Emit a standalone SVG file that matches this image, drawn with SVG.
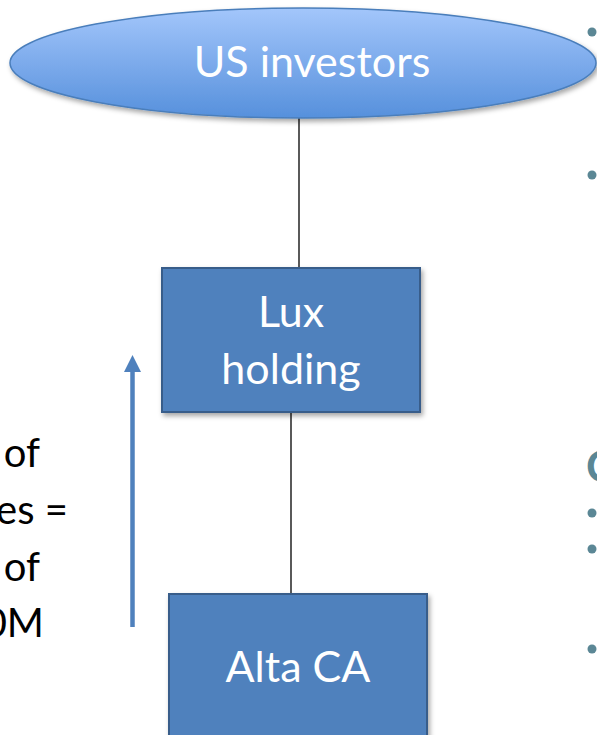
<svg xmlns="http://www.w3.org/2000/svg" width="597" height="735" viewBox="0 0 597 735">
<style>
.lbl{font-family:"Lato","Liberation Sans",sans-serif;font-size:43px;fill:#ffffff;text-anchor:middle}
.side{font-family:"Lato","Liberation Sans",sans-serif;font-size:40px;fill:#000000;text-anchor:end}
.box{fill:#4f81bd;stroke:#385d8a;stroke-width:2}
.conn{stroke:#000000;stroke-width:1.3;fill:none}
.dot{fill:#5b8795}
</style>
<defs>
<linearGradient id="g" x1="0" y1="0" x2="0" y2="1">
<stop offset="0" stop-color="#a3c6fb"/>
<stop offset="1" stop-color="#5690dc"/>
</linearGradient>
<filter id="sh" x="-10%" y="-10%" width="130%" height="130%">
<feDropShadow dx="2" dy="3" stdDeviation="2.5" flood-color="#000" flood-opacity="0.35"/>
</filter>
</defs>
<g id="connectors">
<line class="conn" x1="299" y1="118" x2="299" y2="268"/>
<line class="conn" x1="291" y1="412" x2="291" y2="594"/>
<g id="value-arrow">
<line x1="132.5" y1="627" x2="132.5" y2="370" stroke="#4f81bd" stroke-width="4.5"/>
<path d="M132.5,355 L141,372 L124,372 Z" fill="#4f81bd"/>
</g>
</g>
<g id="us-investors">
<ellipse cx="303" cy="63" rx="293" ry="55" fill="url(#g)" stroke="#4a7ebb" stroke-width="1.5" filter="url(#sh)"/>
<text class="lbl" x="312" y="77">US investors</text>
</g>
<g id="lux-holding">
<rect class="box" x="162" y="268" width="258" height="144" filter="url(#sh)"/>
<text class="lbl" x="291" y="327">Lux</text>
<text class="lbl" x="291" y="384">holding</text>
</g>
<g id="alta-ca">
<rect class="box" x="169" y="594" width="258" height="160" filter="url(#sh)"/>
<text class="lbl" x="298" y="682">Alta CA</text>
</g>
<g id="side-text">
<text class="side" x="40" y="467">of</text>
<text class="side" x="68" y="524">es =</text>
<text class="side" x="40" y="581">of</text>
<text class="side" x="44" y="637">0M</text>
</g>
<g id="right-bullets">
<circle class="dot" cx="592" cy="32" r="4.5"/>
<circle class="dot" cx="592" cy="175" r="4.5"/>
<circle class="dot" cx="592" cy="513" r="4.5"/>
<circle class="dot" cx="592" cy="549" r="4.5"/>
<circle class="dot" cx="592" cy="649" r="4.5"/>
<text x="586" y="482" font-family="Lato,'Liberation Sans',sans-serif" font-weight="bold" font-size="44" fill="#5b8795">C</text>
</g>
</svg>
